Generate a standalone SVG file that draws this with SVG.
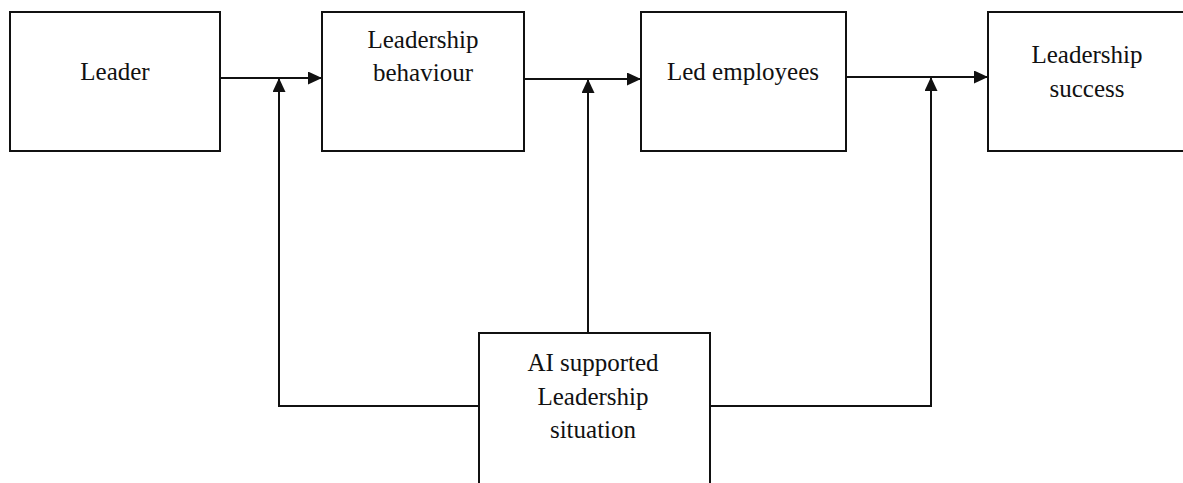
<svg xmlns="http://www.w3.org/2000/svg" width="1183" height="483" viewBox="0 0 1183 483">
<style>
.box{fill:#fff;stroke:#111;stroke-width:2}
.lbl{font-family:"Liberation Serif","Times New Roman",serif;font-size:25px;fill:#111;text-anchor:middle}
.con{fill:none;stroke:#111;stroke-width:2}
</style>
<defs>
<marker id="ah" markerUnits="userSpaceOnUse" markerWidth="15" markerHeight="14" refX="14" refY="6.5" orient="auto">
<path d="M0,0 L14,6.5 L0,13 z" fill="#111"/>
</marker>
</defs>
<rect width="1183" height="483" fill="#fff"/>
<g id="connectors">
<line class="con" x1="220" y1="78" x2="322" y2="78" marker-end="url(#ah)"/>
<line class="con" x1="524" y1="79" x2="641" y2="79" marker-end="url(#ah)"/>
<line class="con" x1="846" y1="77" x2="988" y2="77" marker-end="url(#ah)"/>
<polyline class="con" points="479,406 279,406 279,78" marker-end="url(#ah)"/>
<line class="con" x1="588" y1="333" x2="588" y2="79" marker-end="url(#ah)"/>
<polyline class="con" points="710,406 931,406 931,77" marker-end="url(#ah)"/>
</g>
<g id="leader">
<rect class="box" x="10" y="12" width="210" height="139"/>
<text class="lbl" x="115" y="80">Leader</text>
</g>
<g id="leadership-behaviour">
<rect class="box" x="322" y="12" width="202" height="139"/>
<text class="lbl" x="423" y="48">Leadership</text>
<text class="lbl" x="423" y="81">behaviour</text>
</g>
<g id="led-employees">
<rect class="box" x="641" y="12" width="205" height="139"/>
<text class="lbl" x="743" y="80">Led employees</text>
</g>
<g id="leadership-success">
<rect class="box" x="988" y="12" width="200" height="139"/>
<text class="lbl" x="1087" y="63">Leadership</text>
<text class="lbl" x="1087" y="97">success</text>
</g>
<g id="ai-situation">
<rect class="box" x="479" y="333" width="231" height="160"/>
<text class="lbl" x="593" y="371">AI supported</text>
<text class="lbl" x="593" y="405">Leadership</text>
<text class="lbl" x="593" y="438">situation</text>
</g>
</svg>
